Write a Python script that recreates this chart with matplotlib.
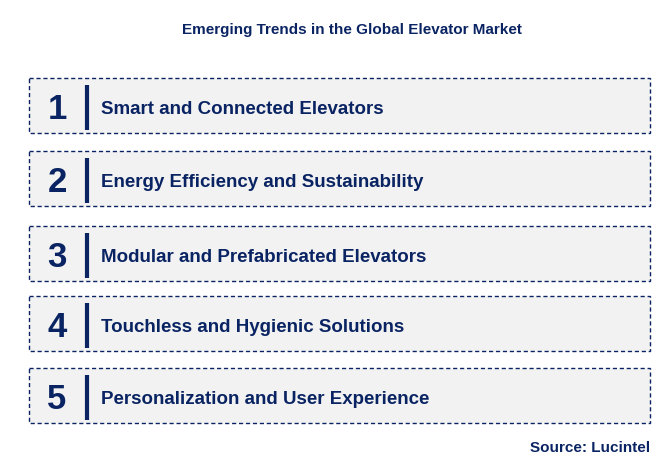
import matplotlib
matplotlib.use("Agg")
import matplotlib.pyplot as plt
from matplotlib.patches import Rectangle

numbers = ["1", "2", "3", "4", "5"]
trends = ["Smart and Connected Elevators",
          "Energy Efficiency and Sustainability",
          "Modular and Prefabricated Elevators",
          "Touchless and Hygienic Solutions",
          "Personalization and User Experience"]
box_tops = [79, 152, 227, 297, 369]
box_h = 55
navy = "#0a2463"

fig = plt.figure(figsize=(6.64, 4.60), dpi=100)
ax = fig.add_axes([0, 0, 1, 1])
ax.set_xlim(0, 664); ax.set_ylim(460, 0); ax.axis("off")
font = "Liberation Sans"
ax.text(352, 30, "Emerging Trends in the Global Elevator Market", ha="center", va="center",
        fontsize=11, fontweight="bold", color=navy, family=font)
for n, t, y in zip(numbers, trends, box_tops):
    ax.add_patch(Rectangle((29, y), 621, box_h, facecolor="#f2f2f2", edgecolor=navy,
                           linestyle=(0, (3, 2)), linewidth=1))
    ax.text(57, y + box_h / 2 + 3, n, ha="center", va="center", fontsize=25,
            fontweight="bold", color=navy, family=font)
    ax.plot([87, 87], [y + 7, y + box_h - 3], color=navy, linewidth=3, solid_capstyle="butt")
    ax.text(101, y + box_h / 2 + 3, t, ha="left", va="center", fontsize=13.5,
            fontweight="bold", color=navy, family=font)
ax.text(650, 448, "Source: Lucintel", ha="right", va="center", fontsize=11,
        fontweight="bold", color=navy, family=font)
fig.savefig("out.png", dpi=100)
